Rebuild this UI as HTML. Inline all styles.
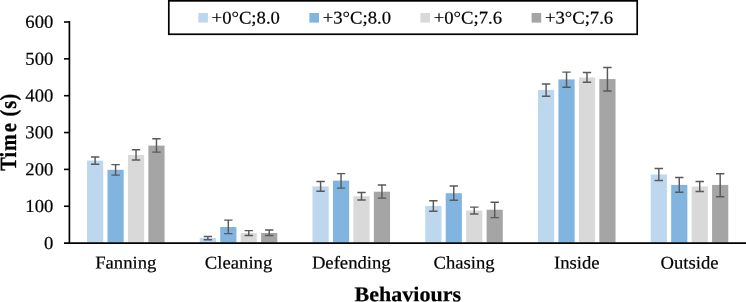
<!DOCTYPE html>
<html><head><meta charset="utf-8"><title>Chart</title>
<style>
html,body{margin:0;padding:0;background:#fff;}
body{width:746px;height:302px;overflow:hidden;}
text{font-family:"Liberation Serif",serif;fill:#000;stroke:#000;stroke-width:0.2px;}
.t{font-size:17.87px;}
.y{font-size:18.3px;}
.b{font-size:21.09px;font-weight:bold;}
.v{font-size:20.3px;font-weight:bold;stroke:#000;stroke-width:0.3px;}
</style></head><body>
<svg width="746" height="302" viewBox="0 0 746 302" style="display:block;will-change:transform;opacity:0.999">
<rect width="746" height="302" fill="#fff"/>
<rect x="87.03" y="160.60" width="16.2" height="81.90" fill="#BDD7EE"/>
<rect x="107.48" y="169.80" width="16.2" height="72.70" fill="#82B4E0"/>
<rect x="127.93" y="154.90" width="16.2" height="87.60" fill="#D9D9D9"/>
<rect x="148.38" y="145.60" width="16.2" height="96.90" fill="#A5A5A5"/>
<rect x="199.77" y="238.00" width="16.2" height="4.50" fill="#BDD7EE"/>
<rect x="220.22" y="227.00" width="16.2" height="15.50" fill="#82B4E0"/>
<rect x="240.66" y="233.10" width="16.2" height="9.40" fill="#D9D9D9"/>
<rect x="261.11" y="233.00" width="16.2" height="9.50" fill="#A5A5A5"/>
<rect x="312.50" y="186.40" width="16.2" height="56.10" fill="#BDD7EE"/>
<rect x="332.95" y="180.60" width="16.2" height="61.90" fill="#82B4E0"/>
<rect x="353.40" y="196.20" width="16.2" height="46.30" fill="#D9D9D9"/>
<rect x="373.85" y="191.70" width="16.2" height="50.80" fill="#A5A5A5"/>
<rect x="425.24" y="206.00" width="16.2" height="36.50" fill="#BDD7EE"/>
<rect x="445.69" y="193.20" width="16.2" height="49.30" fill="#82B4E0"/>
<rect x="466.14" y="210.50" width="16.2" height="32.00" fill="#D9D9D9"/>
<rect x="486.59" y="209.70" width="16.2" height="32.80" fill="#A5A5A5"/>
<rect x="537.99" y="89.90" width="16.2" height="152.60" fill="#BDD7EE"/>
<rect x="558.43" y="79.40" width="16.2" height="163.10" fill="#82B4E0"/>
<rect x="578.88" y="77.50" width="16.2" height="165.00" fill="#D9D9D9"/>
<rect x="599.33" y="79.10" width="16.2" height="163.40" fill="#A5A5A5"/>
<rect x="650.72" y="174.50" width="16.2" height="68.00" fill="#BDD7EE"/>
<rect x="671.17" y="184.90" width="16.2" height="57.60" fill="#82B4E0"/>
<rect x="691.62" y="186.50" width="16.2" height="56.00" fill="#D9D9D9"/>
<rect x="712.07" y="184.90" width="16.2" height="57.60" fill="#A5A5A5"/>
<path d="M90.92 157.00H99.33M90.92 164.30H99.33M95.12 157.00V164.30" stroke="#595959" stroke-width="1.45" fill="none"/>
<path d="M111.38 164.60H119.78M111.38 175.10H119.78M115.58 164.60V175.10" stroke="#595959" stroke-width="1.45" fill="none"/>
<path d="M131.83 149.80H140.22M131.83 160.00H140.22M136.03 149.80V160.00" stroke="#595959" stroke-width="1.45" fill="none"/>
<path d="M152.28 138.80H160.67M152.28 152.10H160.67M156.47 138.80V152.10" stroke="#595959" stroke-width="1.45" fill="none"/>
<path d="M203.67 236.40H212.06M203.67 239.70H212.06M207.87 236.40V239.70" stroke="#595959" stroke-width="1.45" fill="none"/>
<path d="M224.12 220.10H232.51M224.12 233.60H232.51M228.31 220.10V233.60" stroke="#595959" stroke-width="1.45" fill="none"/>
<path d="M244.56 230.60H252.96M244.56 235.50H252.96M248.76 230.60V235.50" stroke="#595959" stroke-width="1.45" fill="none"/>
<path d="M265.01 229.90H273.41M265.01 235.50H273.41M269.21 229.90V235.50" stroke="#595959" stroke-width="1.45" fill="none"/>
<path d="M316.40 181.50H324.80M316.40 191.20H324.80M320.60 181.50V191.20" stroke="#595959" stroke-width="1.45" fill="none"/>
<path d="M336.85 173.60H345.25M336.85 188.10H345.25M341.05 173.60V188.10" stroke="#595959" stroke-width="1.45" fill="none"/>
<path d="M357.31 192.40H365.70M357.31 200.00H365.70M361.50 192.40V200.00" stroke="#595959" stroke-width="1.45" fill="none"/>
<path d="M377.75 185.00H386.15M377.75 198.10H386.15M381.95 185.00V198.10" stroke="#595959" stroke-width="1.45" fill="none"/>
<path d="M429.14 200.70H437.54M429.14 211.30H437.54M433.34 200.70V211.30" stroke="#595959" stroke-width="1.45" fill="none"/>
<path d="M449.59 185.90H457.99M449.59 200.30H457.99M453.79 185.90V200.30" stroke="#595959" stroke-width="1.45" fill="none"/>
<path d="M470.05 207.10H478.44M470.05 214.00H478.44M474.25 207.10V214.00" stroke="#595959" stroke-width="1.45" fill="none"/>
<path d="M490.50 202.30H498.89M490.50 217.60H498.89M494.69 202.30V217.60" stroke="#595959" stroke-width="1.45" fill="none"/>
<path d="M541.88 83.90H550.29M541.88 96.30H550.29M546.09 83.90V96.30" stroke="#595959" stroke-width="1.45" fill="none"/>
<path d="M562.33 72.10H570.74M562.33 87.30H570.74M566.53 72.10V87.30" stroke="#595959" stroke-width="1.45" fill="none"/>
<path d="M582.78 72.40H591.19M582.78 82.20H591.19M586.99 72.40V82.20" stroke="#595959" stroke-width="1.45" fill="none"/>
<path d="M603.23 67.50H611.63M603.23 91.00H611.63M607.43 67.50V91.00" stroke="#595959" stroke-width="1.45" fill="none"/>
<path d="M654.62 168.50H663.02M654.62 180.50H663.02M658.82 168.50V180.50" stroke="#595959" stroke-width="1.45" fill="none"/>
<path d="M675.07 177.40H683.47M675.07 192.30H683.47M679.27 177.40V192.30" stroke="#595959" stroke-width="1.45" fill="none"/>
<path d="M695.52 181.50H703.92M695.52 191.40H703.92M699.72 181.50V191.40" stroke="#595959" stroke-width="1.45" fill="none"/>
<path d="M715.97 173.80H724.37M715.97 196.80H724.37M720.17 173.80V196.80" stroke="#595959" stroke-width="1.45" fill="none"/>
<path d="M69.4 21.2V243.10" stroke="#000" stroke-width="1.7" fill="none"/>
<path d="M64 243.22H746" stroke="#000" stroke-width="1.7" fill="none"/>
<path d="M64 206.25H70" stroke="#000" stroke-width="1.6" fill="none"/>
<path d="M64 169.40H70" stroke="#000" stroke-width="1.6" fill="none"/>
<path d="M64 132.55H70" stroke="#000" stroke-width="1.6" fill="none"/>
<path d="M64 95.70H70" stroke="#000" stroke-width="1.6" fill="none"/>
<path d="M64 58.85H70" stroke="#000" stroke-width="1.6" fill="none"/>
<path d="M64 22.00H70" stroke="#000" stroke-width="1.6" fill="none"/>
<text transform="translate(53.30 248.90) rotate(0.03) scale(1.02 1)" text-anchor="end" class="y">0</text>
<text transform="translate(53.30 212.05) rotate(0.03) scale(1.02 1)" text-anchor="end" class="y">100</text>
<text transform="translate(53.30 175.20) rotate(0.03) scale(1.02 1)" text-anchor="end" class="y">200</text>
<text transform="translate(53.30 138.35) rotate(0.03) scale(1.02 1)" text-anchor="end" class="y">300</text>
<text transform="translate(53.30 101.50) rotate(0.03) scale(1.02 1)" text-anchor="end" class="y">400</text>
<text transform="translate(53.30 64.65) rotate(0.03) scale(1.02 1)" text-anchor="end" class="y">500</text>
<text transform="translate(53.30 27.80) rotate(0.03) scale(1.02 1)" text-anchor="end" class="y">600</text>
<text transform="translate(125.80 268.50) rotate(0.03) scale(1.045 1)" text-anchor="middle" class="t">Fanning</text>
<text transform="translate(238.54 268.50) rotate(0.03) scale(1.045 1)" text-anchor="middle" class="t">Cleaning</text>
<text transform="translate(351.28 268.50) rotate(0.03) scale(1.045 1)" text-anchor="middle" class="t">Defending</text>
<text transform="translate(464.02 268.50) rotate(0.03) scale(1.045 1)" text-anchor="middle" class="t">Chasing</text>
<text transform="translate(576.76 268.50) rotate(0.03) scale(1.045 1)" text-anchor="middle" class="t">Inside</text>
<text transform="translate(689.50 268.50) rotate(0.03) scale(1.045 1)" text-anchor="middle" class="t">Outside</text>
<text transform="translate(407.80 301.20) rotate(0.03) scale(1.045 1)" text-anchor="middle" class="b">Behaviours</text>
<text transform="translate(15.55 170.77) rotate(-90.03) scale(1 1.14)" x="0.03 13.38 19.86 38.46 49 54.2 62.0 70.25" class="v">Time (s)</text>
<rect x="168.8" y="0.85" width="468.4" height="33.4" fill="#fff" stroke="#000" stroke-width="1.7"/>
<rect x="198.3" y="13" width="9.6" height="9.6" fill="#BDD7EE"/>
<text transform="translate(211.60 23.45) rotate(0.03) scale(1.045 1)" text-anchor="start" class="t">+0°C;8.0</text>
<rect x="309.4" y="13" width="9.6" height="9.6" fill="#82B4E0"/>
<text transform="translate(322.70 23.45) rotate(0.03) scale(1.045 1)" text-anchor="start" class="t">+3°C;8.0</text>
<rect x="420.4" y="13" width="9.6" height="9.6" fill="#D9D9D9"/>
<text transform="translate(433.70 23.45) rotate(0.03) scale(1.045 1)" text-anchor="start" class="t">+0°C;7.6</text>
<rect x="531.6" y="13" width="9.6" height="9.6" fill="#A5A5A5"/>
<text transform="translate(544.90 23.45) rotate(0.03) scale(1.045 1)" text-anchor="start" class="t">+3°C;7.6</text>
</svg>
</body></html>
